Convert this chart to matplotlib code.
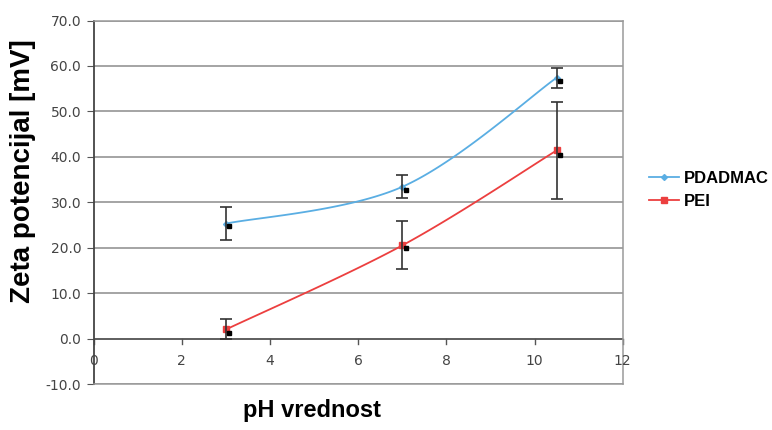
import numpy as np
import matplotlib
matplotlib.use("Agg")
import matplotlib.pyplot as plt

# data
ph = [3.0, 7.0, 10.5]
pdadmac = [25.3, 33.4, 57.4]
pdadmac_err = [3.6, 2.5, 2.2]
pei = [2.0, 20.5, 41.4]
pei_err = [2.2, 5.3, 10.6]

# raw points (black squares, slightly shifted)
ph_raw = [3.07, 7.08, 10.58]
pdadmac_raw = [24.7, 32.8, 56.6]
pei_raw = [1.3, 19.9, 40.5]

x_ticks = [0, 2, 4, 6, 8, 10, 12]
y_ticks = [-10, 0, 10, 20, 30, 40, 50, 60, 70]


def smooth(xs, ys, n=60):
    """Excel-like smoothed line (Bezier through points)."""
    p = np.column_stack([xs, ys]).astype(float)
    pts = np.vstack([p[0], p, p[-1]])
    out = []
    t = np.linspace(0, 1, n)[:, None]
    for i in range(1, len(pts) - 2):
        p0, p1 = pts[i], pts[i + 1]
        c1 = p0 + (pts[i + 1] - pts[i - 1]) / 6
        c2 = p1 - (pts[i + 2] - pts[i]) / 6
        seg = ((1 - t) ** 3) * p0 + 3 * ((1 - t) ** 2) * t * c1 \
            + 3 * (1 - t) * t ** 2 * c2 + t ** 3 * p1
        out.append(seg)
    out = np.vstack(out)
    return out[:, 0], out[:, 1]


fig = plt.figure(figsize=(7.72, 4.30), dpi=100)
ax = fig.add_axes([93.7 / 772, 1 - 384 / 430, (622.7 - 93.7) / 772, (384 - 20.5) / 430])

blue = '#5aaee3'
red = '#ec3f3f'

for y in y_ticks:
    ax.axhline(y, color='#8c8c8c', lw=1.1, zorder=1)
ax.axhline(0, color='#555555', lw=1.2, zorder=2)

xs, ys = smooth(ph, pdadmac)
ax.plot(xs, ys, color=blue, lw=1.3, zorder=3)
ax.plot(ph, pdadmac, 'D', color=blue, ms=3, zorder=4)
xs, ys = smooth(ph, pei)
ax.plot(xs, ys, color=red, lw=1.3, zorder=3)
ax.plot(ph, pei, 's', color=red, ms=4, zorder=4)

ax.errorbar(ph, pdadmac, yerr=pdadmac_err, fmt='none', ecolor='#333333',
            elinewidth=1.2, capsize=4, capthick=1.2, zorder=5)
ax.errorbar(ph, pei, yerr=pei_err, fmt='none', ecolor='#333333',
            elinewidth=1.2, capsize=4, capthick=1.2, zorder=5)
ax.plot(ph_raw, pdadmac_raw, 's', color='black', ms=3, zorder=6)
ax.plot(ph_raw, pei_raw, 's', color='black', ms=3.5, zorder=6)

# x axis drawn through y = 0 with ticks, labels below
for xt in x_ticks:
    ax.plot([xt, xt], [0, -1.2], color='#555555', lw=1.0, zorder=2, clip_on=False)
    ax.text(xt, -5, str(xt), ha='center', va='center', fontsize=10,
            color='#444444', zorder=7)

ax.set_xlim(0, 12)
ax.set_ylim(-10, 70)
ax.set_xticks([])
ax.set_yticks(y_ticks)
ax.set_yticklabels([f'{v:.1f}' for v in y_ticks], fontsize=10, color='#444444')
ax.tick_params(axis='y', length=5, color='#555555', pad=4)

for side in ['top', 'right', 'bottom']:
    ax.spines[side].set_color('#9a9a9a')
    ax.spines[side].set_linewidth(1.1)
ax.spines['left'].set_color('#444444')
ax.spines['left'].set_linewidth(1.3)

ax.set_ylabel('Zeta potencijal [mV]', fontsize=20, fontweight='bold',
              family='Liberation Sans')
ax.yaxis.set_label_coords(-0.11, 0.586)
fig.text(312 / 772, 1 - 411 / 430, 'pH vrednost', fontsize=17,
         fontweight='bold', family='Liberation Sans', ha='center', va='center')

h1 = plt.Line2D([], [], color=blue, lw=1.3, marker='D', ms=3)
h2 = plt.Line2D([], [], color=red, lw=1.3, marker='s', ms=4)
fig.legend([h1, h2], ['PDADMAC', 'PEI'], loc='center left',
           bbox_to_anchor=(636 / 772, 1 - 190 / 430), frameon=False,
           prop={'family': 'Liberation Sans', 'weight': 'bold', 'size': 12},
           handlelength=1.8, handletextpad=0.3, labelspacing=0.5,
           borderpad=0.3)

fig.savefig('out.png', dpi=100)
